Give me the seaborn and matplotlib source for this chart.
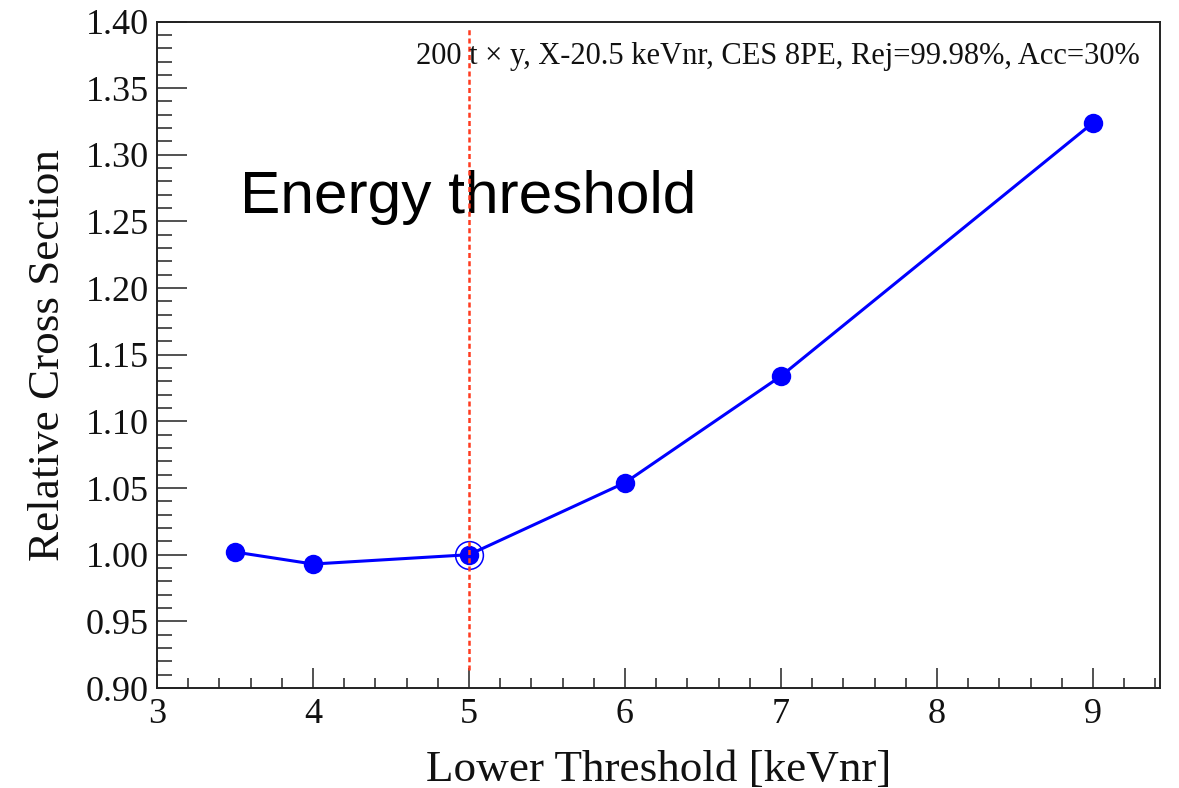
import numpy as np
import matplotlib
matplotlib.use("Agg")
import matplotlib.pyplot as plt
from matplotlib.ticker import MultipleLocator, FormatStrFormatter
import seaborn as sns
import pandas as pd

# Scan of the lower energy threshold
threshold_kevnr = [3.5, 4.0, 5.0, 6.0, 7.0, 9.0]
relative_xsec = [1.002, 0.993, 1.000, 1.054, 1.134, 1.324]
reference_threshold = 5.0
reference_value = 1.000

x_ticks = [3, 4, 5, 6, 7, 8, 9]
y_ticks = [0.90, 0.95, 1.00, 1.05, 1.10, 1.15, 1.20, 1.25, 1.30, 1.35, 1.40]

x_title = "Lower Threshold [keVnr]"
y_title = "Relative Cross Section"
info_text = "200 t \u00d7 y, X-20.5 keVnr, CES 8PE, Rej=99.98%, Acc=30%"
headline = "Energy threshold"

sns.set_style("ticks")
plt.rcParams["font.family"] = ["Liberation Serif", "DejaVu Serif"]

fig = plt.figure(figsize=(11.79, 7.88), dpi=100)
ax = fig.add_axes([0.1332, 0.1269, 0.8507, 0.8458])

df = pd.DataFrame({"thr": threshold_kevnr, "xsec": relative_xsec})
sns.lineplot(data=df, x="thr", y="xsec", ax=ax, color="#0000ff", linewidth=2.2,
             marker="o", markersize=14, markeredgewidth=0, zorder=3)

# Open ring marking the nominal threshold
ax.plot([reference_threshold], [reference_value], marker="o", markersize=20,
        markerfacecolor="none", markeredgecolor="#0000ff", markeredgewidth=1.1,
        linestyle="none", zorder=3)

# Nominal threshold line
ax.axvline(reference_threshold, ymin=0.027, ymax=0.99, color="#ff3b1f",
           linewidth=1.8, dashes=(2.0, 1.3), zorder=4)

ax.set_xlim(3, 9.43)
ax.set_ylim(0.90, 1.40)
ax.set_xticks(x_ticks)
ax.set_yticks(y_ticks)
ax.yaxis.set_major_formatter(FormatStrFormatter("%.2f"))
ax.xaxis.set_minor_locator(MultipleLocator(0.2))
ax.yaxis.set_minor_locator(MultipleLocator(0.01))

ax.tick_params(axis="both", which="both", direction="in", top=False, right=False,
               width=1.1, color="#222222", labelsize=26, labelcolor="#111111")
ax.tick_params(axis="x", which="major", length=14.5, pad=7)
ax.tick_params(axis="x", which="minor", length=7.2)
ax.tick_params(axis="y", which="major", length=21.5, pad=6)
ax.tick_params(axis="y", which="minor", length=10.8)

for side in ["top", "right", "bottom", "left"]:
    ax.spines[side].set_visible(True)
    ax.spines[side].set_linewidth(1.4)
    ax.spines[side].set_color("#222222")

ax.set_xlabel(x_title, fontsize=32.5, color="#111111")
ax.set_ylabel(y_title, fontsize=32.5, color="#111111")
ax.xaxis.set_label_coords(0.5, -0.093)
ax.yaxis.set_label_coords(-0.089, 0.5)

ax.text(0.980, 0.947, info_text, transform=ax.transAxes, ha="right", va="center",
        fontsize=22, color="#111111", zorder=5)
ax.text(0.0828, 0.7127, headline, transform=ax.transAxes, ha="left", va="baseline",
        fontsize=43.5, family=["Liberation Sans", "DejaVu Sans"], color="black", zorder=2)

fig.savefig("out.png", dpi=100)
